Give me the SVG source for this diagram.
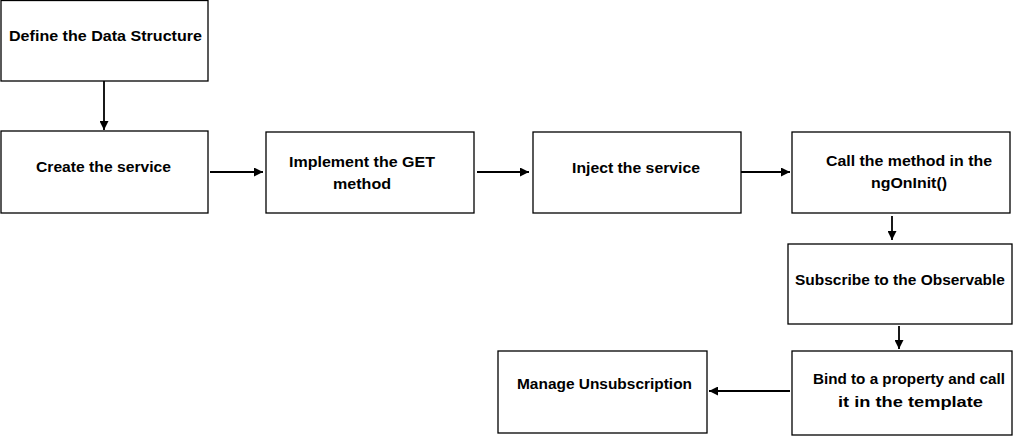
<svg xmlns="http://www.w3.org/2000/svg" width="1013" height="436" viewBox="0 0 1013 436">
<style>
.box{fill:#fff;stroke:#000;stroke-width:1.3}
.lbl{font-family:"Liberation Sans",Arial,sans-serif;font-weight:bold;font-size:15.5px;fill:#000}
.conn{stroke:#000;stroke-width:1.8;fill:none;marker-end:url(#ah)}
</style>
<defs>
<marker id="ah" viewBox="0 0 10 10" refX="10" refY="5" markerWidth="5" markerHeight="5" orient="auto" markerUnits="strokeWidth">
<path d="M0,0 L10,5 L0,10 z" fill="#000"/>
</marker>
</defs>
<rect width="1013" height="436" fill="#fff"/>
<g id="n1"><rect class="box" x="1" y="0.5" width="207" height="80.5"/><text class="lbl" x="9" y="41" textLength="193" lengthAdjust="spacingAndGlyphs">Define the Data Structure</text></g>
<g id="n2"><rect class="box" x="1" y="131" width="207" height="82"/><text class="lbl" x="36" y="172" textLength="135" lengthAdjust="spacingAndGlyphs">Create the service</text></g>
<g id="n3"><rect class="box" x="266" y="132" width="208" height="81"/><text class="lbl" x="289" y="167" textLength="146" lengthAdjust="spacingAndGlyphs">Implement the GET</text><text class="lbl" x="333" y="189" textLength="58" lengthAdjust="spacingAndGlyphs">method</text></g>
<g id="n4"><rect class="box" x="533" y="132" width="208" height="81"/><text class="lbl" x="572" y="173" textLength="128" lengthAdjust="spacingAndGlyphs">Inject the service</text></g>
<g id="n5"><rect class="box" x="792" y="132" width="218" height="81"/><text class="lbl" x="826" y="166" textLength="166" lengthAdjust="spacingAndGlyphs">Call the method in the</text><text class="lbl" x="871" y="188" textLength="76" lengthAdjust="spacingAndGlyphs">ngOnInit()</text></g>
<g id="n6"><rect class="box" x="788" y="244" width="224" height="80"/><text class="lbl" x="795" y="285" textLength="210" lengthAdjust="spacingAndGlyphs">Subscribe to the Observable</text></g>
<g id="n7"><rect class="box" x="792" y="351" width="220" height="84"/><text class="lbl" x="813" y="384" textLength="192" lengthAdjust="spacingAndGlyphs">Bind to a property and call</text><text class="lbl" x="838" y="407" textLength="145" lengthAdjust="spacingAndGlyphs">it in the template</text></g>
<g id="n8"><rect class="box" x="498" y="351" width="209" height="82"/><text class="lbl" x="517" y="389" textLength="175" lengthAdjust="spacingAndGlyphs">Manage Unsubscription</text></g>
<g id="connectors">
<line class="conn" x1="104" y1="81" x2="104" y2="130"/>
<line class="conn" x1="210" y1="172" x2="263" y2="172"/>
<line class="conn" x1="477" y1="172" x2="529" y2="172"/>
<line class="conn" x1="741" y1="172" x2="790" y2="172"/>
<line class="conn" x1="892" y1="216" x2="892" y2="240"/>
<line class="conn" x1="899" y1="326" x2="899" y2="349"/>
<line class="conn" x1="790" y1="391" x2="709" y2="391"/>
</g>
</svg>
